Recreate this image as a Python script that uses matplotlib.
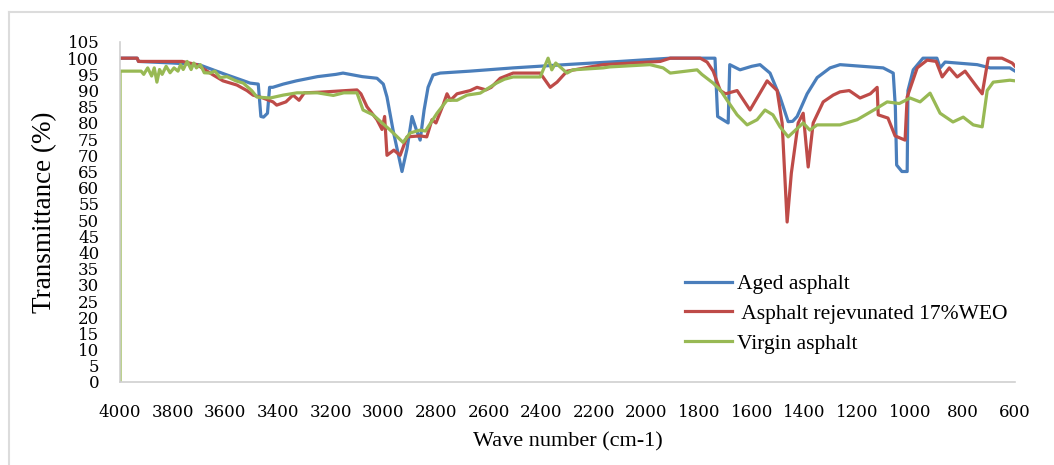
import matplotlib.pyplot as plt
from matplotlib.lines import Line2D

# FTIR spectra, transmittance (%) against wave number (cm-1)
aged_wn = [4000, 3935, 3930, 3800, 3700, 3600, 3530, 3506, 3475, 3465, 3455, 3440,
           3432, 3420, 3380, 3330, 3250, 3180, 3153, 3080, 3024, 3000, 2986, 2963,
           2929, 2910, 2891, 2875, 2860, 2845, 2830, 2811, 2784, 2670, 2507, 2290,
           2100, 1910, 1740, 1730, 1690, 1684, 1645, 1600, 1569, 1531, 1493, 1462,
           1445, 1428, 1390, 1352, 1303, 1265, 1101, 1063, 1055, 1050, 1030, 1010,
           1007, 987, 950, 897, 885, 866, 744, 695, 620, 600]
aged_tr = [100, 100, 99, 98.5, 98, 95, 93, 92.3, 92, 82, 81.8, 83,
           91, 91, 92, 93, 94.3, 95, 95.4, 94.3, 93.8, 92, 88, 77.8,
           65, 72, 82, 78, 74.7, 84, 91, 94.8, 95.4, 96, 97, 98.1,
           99, 100, 100, 82, 80, 98, 96.4, 97.5, 98, 95.4, 88, 80.4,
           80.5, 82, 89, 94, 97, 98, 97, 95.4, 85, 67, 65, 65,
           90, 96.4, 100, 100, 97, 98.8, 98, 97, 97, 96]

rejuv_wn = [4000, 3935, 3930, 3764, 3708, 3650, 3609, 3556, 3518, 3495, 3457, 3419,
            3405, 3370, 3343, 3320, 3300, 3240, 3100, 3085, 3062, 3024, 3005, 2995,
            2986, 2960, 2936, 2910, 2860, 2835, 2815, 2800, 2773, 2758, 2745, 2720,
            2670, 2644, 2610, 2590, 2556, 2507, 2404, 2366, 2340, 2302, 2165, 1948,
            1910, 1796, 1770, 1747, 1720, 1700, 1656, 1607, 1542, 1504, 1485, 1466,
            1450, 1424, 1405, 1386, 1367, 1329, 1291, 1265, 1230, 1189, 1150, 1124,
            1120, 1083, 1056, 1018, 1010, 972, 934, 900, 877, 850, 820, 790,
            744, 725, 702, 650, 611, 600]
rejuv_tr = [100, 100, 99, 99, 98, 95, 93, 91.7, 90, 88.6, 87.7, 86.5,
            85.5, 86.5, 88.6, 87, 89.3, 89.5, 90.2, 89, 85, 81, 78, 82,
            70, 71.6, 70, 75.7, 76, 75.7, 81, 80, 85.5, 89, 87, 89,
            90, 91, 90.2, 91, 93.8, 95.4, 95.4, 91, 92.6, 96, 98, 99,
            100, 100, 98.8, 96, 90, 89, 90, 84, 93, 90, 80, 49.4,
            64.5, 80, 83, 66.4, 80, 86.5, 88.6, 89.6, 90, 87.7, 89, 91,
            82.5, 81.5, 76, 74.7, 88, 97, 99.4, 99, 94.2, 97, 94.2, 96,
            91, 89, 100, 100, 98.5, 97.5]

virgin_wn = [4000, 4000, 3920, 3910, 3895, 3880, 3870, 3860, 3850, 3840, 3825, 3810,
             3795, 3780, 3770, 3760, 3745, 3730, 3720, 3710, 3695, 3680, 3658, 3640,
             3620, 3594, 3560, 3532, 3500, 3480, 3430, 3380, 3328, 3250, 3190, 3150,
             3100, 3077, 3039, 2974, 2925, 2898, 2860, 2840, 2796, 2758, 2720, 2682,
             2632, 2600, 2570, 2540, 2507, 2404, 2374, 2360, 2345, 2302, 2280, 2165,
             2140, 1987, 1937, 1910, 1808, 1790, 1747, 1720, 1694, 1656, 1618, 1580,
             1550, 1520, 1493, 1462, 1405, 1380, 1352, 1265, 1200, 1124, 1086, 1040,
             999, 961, 923, 885, 836, 797, 759, 725, 706, 683, 620, 600]
virgin_tr = [0, 96, 96, 95, 97, 94.5, 97, 92.6, 96.5, 95, 97.5, 95.5,
             97, 96, 98, 96.5, 99, 96.5, 98.5, 97, 98, 95.5, 95.4, 96,
             94, 94.3, 93, 92.3, 90, 88, 87.7, 88.6, 89.3, 89.3, 88.5, 89.3,
             89.3, 84, 82.5, 77.8, 74, 76.9, 77.8, 77.5, 83, 87, 87, 88.6,
             89.2, 90.8, 92.3, 93.5, 94.2, 94.2, 100, 96.4, 98.5, 95.4, 96.4, 97,
             97.3, 98, 97, 95.4, 96.4, 95, 92.3, 90.2, 87, 82.5, 79.4, 81,
             84, 82.5, 78.8, 75.7, 80, 77.8, 79.4, 79.4, 81, 84.6, 86.5, 86,
             87.7, 86.5, 89.2, 83, 80.3, 81.8, 79.4, 78.8, 90, 92.6, 93.2, 93]

series = [
    ("Aged asphalt", aged_wn, aged_tr, "#4A7EBB"),
    (" Asphalt rejevunated 17%WEO", rejuv_wn, rejuv_tr, "#BE4B48"),
    ("Virgin asphalt", virgin_wn, virgin_tr, "#98B954"),
]

plt.rcParams['font.family'] = ['Liberation Serif', 'DejaVu Serif']

fig = plt.figure(figsize=(10.54, 4.65), dpi=100)
ax = fig.add_axes([0.1139, 0.1785, 0.8492, 0.7312])

for label, wn, tr, color in series:
    ax.plot(wn, tr, color=color, lw=2.3, label=label, solid_joinstyle='round')

ax.set_xlim(4000, 600)
ax.set_ylim(0, 105)
ax.set_xticks(range(4000, 599, -200))
ax.set_yticks(range(0, 106, 5))
ax.tick_params(length=0)
ax.tick_params(axis='x', pad=16)
ax.tick_params(axis='y', pad=15)
for lbl in ax.get_xticklabels() + ax.get_yticklabels():
    lbl.set_family('DejaVu Serif')
    lbl.set_fontsize(12)
for side in ['top', 'right']:
    ax.spines[side].set_visible(False)
for side in ['left', 'bottom']:
    ax.spines[side].set_color('#d0d0d0')
    ax.spines[side].set_linewidth(1.2)

ax.set_ylabel("Transmittance (%)", fontsize=19.5)
ax.yaxis.set_label_coords(-0.070, 0.5)
ax.set_xlabel("Wave number (cm-1)", fontsize=16)
ax.xaxis.set_label_coords(0.5, -0.147)

ax.legend(loc='upper left', bbox_to_anchor=(685 / 1054, 1 - 274 / 465),
          bbox_transform=fig.transFigure, frameon=False,
          fontsize=15.5, handlelength=2.2, handletextpad=0.2, labelspacing=0.45,
          borderpad=0, borderaxespad=0)

# thin gray frame of the original picture
fig.add_artist(Line2D([9 / 1054, 9 / 1054], [0, 1 - 12 / 465], color='#dcdcdc', lw=1.5))
fig.add_artist(Line2D([9 / 1054, 1], [1 - 12 / 465, 1 - 12 / 465], color='#dcdcdc', lw=1.5))

fig.savefig("out.png", dpi=100)
